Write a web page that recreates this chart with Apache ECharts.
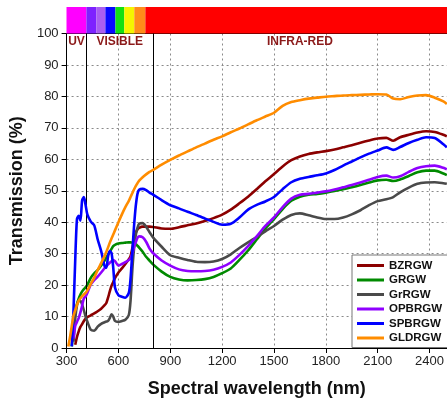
<!DOCTYPE html>
<html>
<head>
<meta charset="utf-8">
<script src="https://cdn.jsdelivr.net/npm/echarts@6/dist/echarts.min.js"></script>
<style>
  html, body { margin: 0; padding: 0; background: #fff; }
  #chart { width: 447px; height: 403px; }
</style>
</head>
<body>
<div id="chart"></div>
<script>
// Spectral transmission of coated glass samples (UV / visible / near-IR)
const wavelength = [310, 320, 330, 340, 350, 360, 370, 380, 390, 400, 410, 420, 440, 460, 480, 500, 520, 530, 540, 550,
  560, 570, 580, 600, 620, 640, 660, 670, 680, 690, 700, 710, 720, 740, 760, 780, 800, 850, 900, 950,
  1000, 1050, 1100, 1150, 1200, 1250, 1300, 1350, 1400, 1450, 1500, 1550, 1600, 1650, 1700, 1750, 1800, 1850, 1900, 1950,
  2000, 2050, 2100, 2150, 2190, 2230, 2280, 2330, 2380, 2430, 2480, 2500];

const BZRGW = [null, null, null, null, 1, 3.5, 5.3, 6.7, 7.6, 8.6, 9.3, 9.8, 10.4, 11, 11.7, 12.5, 13.6, 14.3, 16, 18,
  19.8, 21, 22.2, 24, 25.3, 26.7, 28.2, 29.2, 31.6, 34.5, 36.6, 37.7, 38.2, 38.6, 38.6, 38.6, 38.5, 38, 37.9, 38.4,
  39, 39.6, 40.4, 41.3, 42.4, 44, 46, 48.1, 50.5, 53, 55.3, 57.7, 59.7, 60.9, 61.7, 62.2, 62.6, 63.1, 63.8, 64.5,
  65.3, 66, 66.6, 66.8, 65.9, 67, 67.8, 68.5, 68.9, 68.7, 67.8, 67.3];

const GRGW = [null, null, 0.5, 6, 11.5, 14, 15.7, 17, 18, 18.7, 19.3, 20.1, 22.3, 23.7, 24.8, 26.2, 27.8, 28.8, 29.7, 30.6,
  31.5, 32.4, 32.8, 33.2, 33.4, 33.5, 33.6, 33.6, 33.5, 33.2, 33, 32.5, 31.9, 30.6, 29, 27.8, 26.6, 24.3, 22.6, 21.8,
  21.5, 21.6, 21.9, 22.6, 23.8, 25.3, 28, 31, 34.5, 38, 41, 44.2, 46.8, 48.1, 48.7, 49, 49.4, 49.9, 50.5, 51.1,
  51.8, 52.6, 53.3, 53.5, 53.1, 53.6, 54.7, 55.9, 56.4, 56.4, 55.5, 55];

const GrRGW = [null, null, null, 2, 9.3, 13.5, 15, 15, 13.8, 12, 10, 8.4, 5.8, 5.5, 6.8, 7.7, 8.2, 8.4, 8.6, 9.5,
  10.7, 10, 8.6, 8.3, 8.6, 9, 10.5, 15, 24.5, 31.5, 35.8, 38.2, 39.5, 39.7, 38.6, 36.8, 35.2, 32.2, 29.5, 28.7,
  28, 27.4, 27.3, 27.5, 28.3, 29.8, 31.8, 33.6, 35.3, 37.1, 38.8, 40.8, 42.3, 42.8, 42.2, 41.5, 41, 41, 41.5, 42.5,
  43.8, 45.4, 46.7, 47.3, 48, 49.5, 51, 52.2, 52.6, 52.7, 52.4, 52.2];

const OPBRGW = [null, null, null, 3, 7, 8.3, 9.5, 11.3, 13.5, 15.8, 16.4, 17.5, 20.2, 21.6, 22.7, 24, 25.4, 26, 26.6, 27.1,
  27.6, 28, 27.6, 26.2, 26.7, 27.3, 28, 28.5, 30, 32, 33.6, 35, 35.5, 35.2, 33.8, 31.6, 30.2, 27.8, 26.2, 25,
  24.5, 24.4, 24.5, 24.9, 25.8, 27.2, 29.6, 32.4, 35.5, 38.8, 41.5, 44.8, 47.5, 48.7, 49, 49.4, 49.8, 50.4, 51.1, 51.8,
  52.6, 53.5, 54.4, 54.8, 54.2, 54.6, 56, 57.2, 57.8, 58, 57.3, 56.8];

const SPBRGW = [null, null, 0.5, 12, 28, 41, 42, 40.5, 47, 48, 45.5, 42.5, 40.2, 39, 34.5, 30.8, 26, 25.5, 29.2, 30.8,
  30.2, 25.5, 19.2, 16.8, 16.3, 16, 17.5, 22, 30.3, 38.5, 45, 49, 50.3, 50.6, 50.2, 49.4, 48.8, 47, 45.4, 44.4,
  43.3, 42.3, 41.2, 40.1, 39.2, 39.5, 41.5, 44, 45.5, 46.6, 48, 50.5, 52.7, 53.8, 54.4, 54.9, 55.5, 56.6, 58, 59.3,
  60.6, 61.8, 62.8, 63.8, 63, 63.9, 65.2, 66.2, 67, 66.8, 64.8, 63.8];

const GLDRGW = [0.5, 3.5, 7, 10.3, 12, 13.7, 15, 15.8, 16.5, 17, 17.5, 18.3, 20.4, 22.4, 24.8, 27, 29.3, 30.6, 32, 33.5,
  34.8, 36.1, 37.4, 40, 42.5, 44.8, 46.8, 48, 49.2, 50.4, 51.5, 52.4, 53.2, 54.3, 55.2, 56, 56.6, 58.3, 59.8, 61.2,
  62.5, 63.8, 65, 66.2, 67.3, 68.6, 69.8, 71.1, 72.4, 73.6, 74.8, 77, 78.2, 78.8, 79.3, 79.6, 79.9, 80.1, 80.3, 80.4,
  80.5, 80.6, 80.7, 80.6, 79.3, 79.1, 79.8, 80.3, 80.4, 79.6, 78.4, 77.6];

const seriesNames = ['BZRGW', 'GRGW', 'GrRGW', 'OPBRGW', 'SPBRGW', 'GLDRGW'];
const seriesValues = [BZRGW, GRGW, GrRGW, OPBRGW, SPBRGW, GLDRGW];
const seriesColors = ['#8b0000', '#008a00', '#4a4a4a', '#8f00ff', '#0000ff', '#ff8c00'];

// Spectrum strip above the plot: [start nm, end nm, colour]
const spectrumBands = [
  [300, 415, '#ff00ff'],
  [415, 473, '#7d22ff'],
  [473, 525, '#a95ef0'],
  [525, 583, '#0808ff'],
  [583, 634, '#12e012'],
  [634, 692, '#f5f500'],
  [692, 756, '#ff8c1a'],
  [756, 2500, '#ff0000']
];

// Region names and their wavelength bounds
const regions = [
  ['UV', 300, 415],
  ['VISIBLE', 415, 800],
  ['INFRA-RED', 800, 2500]
];
const regionBoundaries = [415, 800];

const xTicks = { min: 300, max: 2500, interval: 300 };
const yTicks = { min: 0, max: 100, interval: 10 };

const FONT = 'Liberation Sans, Arial, sans-serif';

// Plot box (the wavelength range runs a little past the right edge of the page)
const PLOT_LEFT = 66.5;
const PLOT_WIDTH = 383.2;

const chart = echarts.init(document.getElementById('chart'), null, { renderer: 'canvas' });

const lineSeries = seriesNames.map((name, i) => ({
  name,
  type: 'line',
  xAxisIndex: 0,
  yAxisIndex: 0,
  data: wavelength.map((w, k) => [w, seriesValues[i][k]]),
  showSymbol: false,
  smooth: 0.25,
  connectNulls: false,
  clip: true,
  lineStyle: { width: 2.6, color: seriesColors[i] },
  itemStyle: { color: seriesColors[i] },
  z: 3 + i
}));

// Region labels and boundary lines live on an invisible helper series
lineSeries.unshift({
  name: '_regions',
  type: 'line',
  xAxisIndex: 0,
  yAxisIndex: 0,
  data: [],
  silent: true,
  markArea: {
    silent: true,
    itemStyle: { color: 'rgba(0,0,0,0)' },
    label: {
      show: true,
      position: 'insideTop',
      distance: 2,
      color: '#8b1a1a',
      fontFamily: FONT,
      fontWeight: 'bold',
      fontSize: 12
    },
    data: regions.map(r => [{ name: r[0], xAxis: r[1] }, { xAxis: r[2] }])
  },
  markLine: {
    silent: true,
    symbol: 'none',
    label: { show: false },
    lineStyle: { color: '#000', width: 1, type: 'solid' },
    data: regionBoundaries.map(x => ({ xAxis: x }))
  },
  z: 2
});

// Spectrum strip
lineSeries.push({
  name: '_spectrum',
  type: 'line',
  xAxisIndex: 2,
  yAxisIndex: 1,
  data: [],
  silent: true,
  markArea: {
    silent: true,
    label: { show: false },
    data: spectrumBands.map(b => [{ xAxis: b[0], itemStyle: { color: b[2], opacity: 1 } }, { xAxis: b[1] }])
  }
});

const gridLineStyle = { color: '#8a8a8a', type: [2, 3], width: 1 };

chart.setOption({
  animation: false,
  backgroundColor: '#fff',
  textStyle: { fontFamily: FONT },
  grid: [
    { left: PLOT_LEFT, width: PLOT_WIDTH, top: 33.5, bottom: 54.2, show: false },
    { left: PLOT_LEFT, width: PLOT_WIDTH, top: 7, height: 26.5, show: false }
  ],
  legend: {
    data: seriesNames,
    orient: 'vertical',
    left: 352,
    top: 255,
    padding: [4, 4, 3, 5],
    icon: 'rect',
    itemWidth: 27,
    itemHeight: 3,
    itemGap: 1.5,
    backgroundColor: '#fff',
    borderColor: '#777',
    borderWidth: 1,
    textStyle: { fontFamily: FONT, fontSize: 11.5, fontWeight: 'bold', color: '#111', lineHeight: 13, width: 75 }
  },
  xAxis: [
    {
      type: 'value',
      gridIndex: 0,
      min: xTicks.min,
      max: xTicks.max,
      interval: xTicks.interval,
      name: 'Spectral wavelength (nm)',
      nameLocation: 'middle',
      nameGap: 32,
      nameTextStyle: { fontFamily: FONT, fontSize: 18, fontWeight: 'bold', color: '#111' },
      axisLine: { show: true, lineStyle: { color: '#000', width: 1 } },
      axisTick: { show: true, inside: false, length: 5, lineStyle: { color: '#000' } },
      axisLabel: { fontFamily: FONT, fontSize: 13, color: '#222', margin: 7, showMaxLabel: false, formatter: v => String(v) },
      splitLine: { show: true, lineStyle: gridLineStyle }
    },
    {
      // top frame line of the plot
      type: 'value',
      gridIndex: 0,
      position: 'top',
      min: xTicks.min,
      max: xTicks.max,
      axisLine: { show: true, lineStyle: { color: '#000', width: 1 } },
      axisTick: { show: false },
      axisLabel: { show: false },
      splitLine: { show: false }
    },
    {
      type: 'value',
      gridIndex: 1,
      min: xTicks.min,
      max: xTicks.max,
      show: false
    }
  ],
  yAxis: [
    {
      type: 'value',
      gridIndex: 0,
      min: yTicks.min,
      max: yTicks.max,
      interval: yTicks.interval,
      name: 'Transmission (%)',
      nameLocation: 'middle',
      nameGap: 39,
      nameTextStyle: { fontFamily: FONT, fontSize: 18, fontWeight: 'bold', color: '#111' },
      axisLine: { show: true, lineStyle: { color: '#000', width: 1 } },
      axisTick: { show: true, inside: false, length: 5, lineStyle: { color: '#000' } },
      axisLabel: { fontFamily: FONT, fontSize: 13, color: '#222', margin: 8 },
      splitLine: { show: true, lineStyle: gridLineStyle }
    },
    {
      type: 'value',
      gridIndex: 1,
      min: 0,
      max: 1,
      show: false
    }
  ],
  series: lineSeries
});
</script>
</body>
</html>
